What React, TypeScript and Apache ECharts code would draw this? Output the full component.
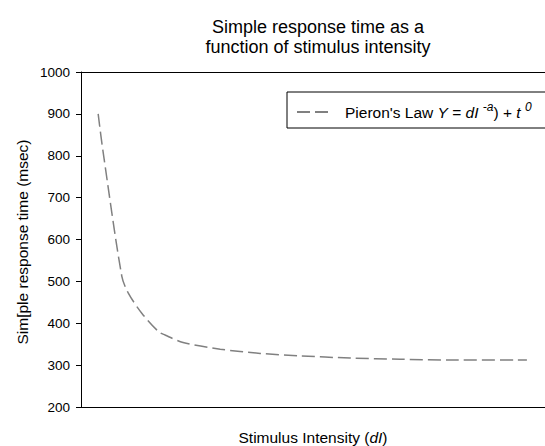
import React, { useEffect, useRef } from "react";
import * as echarts from "echarts";

const titleLines = ["Simple response time as a", "function of stimulus intensity"];
const yAxisTitle = "Sim[ple response time (msec)";
const seriesName = "Pieron's Law";
const yTicks = { min: 200, max: 1000, interval: 100 };
const xRange = { min: 0, max: 100 };
// Stimulus intensity (arbitrary units) and response time (msec)
const intensity = [3.7, 4.7, 8.8, 10.2, 13.1, 16.7, 18.1, 22.0, 30.0, 38.6, 47.2, 58.0, 68.8, 79.5, 96.1];
const responseTime = [900, 814, 512, 472, 424, 380, 372, 354, 338, 328, 322, 317, 314, 312, 312];

const FONT = "'Liberation Sans', Arial, sans-serif";

export default function App() {
  const ref = useRef<HTMLDivElement>(null);
  useEffect(() => {
    if (!ref.current) return;
    const chart = echarts.init(ref.current, undefined, { renderer: "svg" });
    const data = intensity.map((x, i) => [x, responseTime[i]]);
    const axisBase = {
      type: "value",
      min: xRange.min,
      max: xRange.max,
      axisLine: { show: true, onZero: false, lineStyle: { color: "#000", width: 1 } },
      axisTick: { show: false },
      axisLabel: { show: false },
      splitLine: { show: false },
    };
    chart.setOption({
      animation: false,
      backgroundColor: "#fff",
      textStyle: { fontFamily: FONT, color: "#000" },
      title: {
        text: titleLines.join("\n"),
        left: 313,
        top: 12,
        textAlign: "center",
        textStyle: { fontFamily: FONT, fontSize: 18, fontWeight: "normal", color: "#000", lineHeight: 20 },
      },
      grid: {
        left: 81,
        top: 72,
        right: 0,
        bottom: 39,
        show: false,
      },
      legend: {
        left: 287,
        top: 92,
        orient: "horizontal",
        backgroundColor: "#fff",
        borderColor: "#000",
        borderWidth: 1,
        borderRadius: 0,
        padding: [9, 60, 8, 9],
        itemWidth: 33,
        itemHeight: 14,
        itemStyle: { opacity: 0 },
        data: [seriesName],
        formatter: () =>
          "{n|Pieron's Law }{i|Y}{n| = }{i|dI }{s|-a}{n|) + }{i|t }{s|0}",
        textStyle: {
          fontFamily: FONT,
          fontSize: 15.5,
          color: "#000",
          padding: [0, 0, 0, 10],
          rich: {
            n: { fontFamily: FONT, fontSize: 15.5, color: "#000" },
            i: { fontFamily: FONT, fontSize: 15.5, fontStyle: "italic", color: "#000" },
            s: { fontFamily: FONT, fontSize: 12, fontStyle: "italic", color: "#000", padding: [0, 0, 10, 0] },
          },
        },
      },
      xAxis: [
        { ...axisBase, position: "bottom" },
        { ...axisBase, position: "top" },
      ],
      yAxis: {
        type: "value",
        min: yTicks.min,
        max: yTicks.max,
        interval: yTicks.interval,
        axisLine: { show: true, lineStyle: { color: "#000", width: 1 } },
        axisTick: { show: true, inside: false, length: 5, lineStyle: { color: "#000" } },
        axisLabel: {
          margin: 11,
          fontFamily: FONT,
          fontSize: 13.5,
          color: "#000",
          formatter: (v: number) => String(v),
        },
        splitLine: { show: false },
      },
      graphic: [
        {
          type: "text",
          x: 22,
          y: 242,
          rotation: Math.PI / 2,
          style: {
            text: yAxisTitle,
            fontFamily: FONT,
            fontSize: 15.5,
            fill: "#000",
            textAlign: "center",
            textVerticalAlign: "middle",
          },
        },
        {
          type: "text",
          x: 313,
          y: 437,
          style: {
            text: "{n|Stimulus Intensity (}{i|dI}{n|)}",
            fontFamily: FONT,
            fontSize: 15.5,
            fill: "#000",
            textAlign: "center",
            textVerticalAlign: "middle",
            rich: {
              n: { fontFamily: FONT, fontSize: 15.5, fill: "#000" },
              i: { fontFamily: FONT, fontSize: 15.5, fontStyle: "italic", fill: "#000" },
            },
          },
        },
      ],
      series: [
        {
          name: seriesName,
          type: "line",
          xAxisIndex: 0,
          data,
          smooth: 0.3,
          showSymbol: false,
          symbol: "none",
          lineStyle: { color: "#808080", width: 1.5, type: [13, 5] },
          itemStyle: { color: "#808080" },
        },
      ],
    });
    return () => chart.dispose();
  }, []);
  return <div ref={ref} style={{ width: 545, height: 446, position: "absolute", left: 0, top: 0 }} />;
}
